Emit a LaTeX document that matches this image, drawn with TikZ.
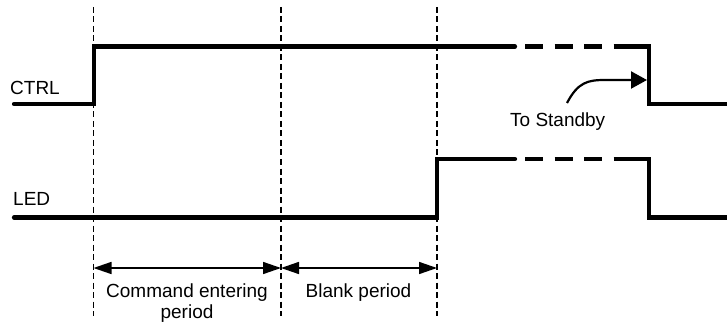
\documentclass[tikz,border=0pt]{standalone}
\usepackage{fontspec}
\setmainfont{Liberation Sans}
\usetikzlibrary{arrows.meta}
\begin{document}
\begin{tikzpicture}[x=1pt,y=-1pt,
  sig/.style={line width=4.2pt,line cap=round,line join=miter},
  sigdash/.style={line width=4.2pt,dash pattern=on 18pt off 11.5pt},
  guide/.style={line width=1.4pt,dash pattern=on 6pt off 3.5pt},
  dim/.style={line width=1.5pt,{Triangle[length=18pt,width=12pt]}-{Triangle[length=18pt,width=12pt]}},
  lbl/.style={font=\fontsize{19}{21}\selectfont,inner sep=0pt}]
\useasboundingbox (0,0) rectangle (727,323);
% guide lines
\coordinate (g1t) at (93.5,7); \coordinate (g1b) at (93.5,316);
\coordinate (g2t) at (281,7); \coordinate (g2b) at (281,316);
\coordinate (g3t) at (437,7); \coordinate (g3b) at (437,316);
\draw[guide] (g1t) -- (g1b);
\draw[guide] (g2t) -- (g2b);
\draw[guide] (g3t) -- (g3b);
% CTRL signal
\coordinate (c0) at (14,104);
\coordinate (c1) at (94,104);
\coordinate (c2) at (94,46.5);
\coordinate (c3) at (515,46.5);
\coordinate (c4) at (525,46.5);
\coordinate (c5) at (602,46.5);
\coordinate (c6) at (613.5,46.5);
\coordinate (c7) at (649,46.5);
\coordinate (c8) at (649,104);
\coordinate (c9) at (730,104);
\draw[sig] (c0) -- (c1) -- (c2) -- (c3);
\draw[sigdash] (c4) -- (c5);
\draw[sig,line cap=butt] (c6) -- (c7) -- (c8) -- (c9);
% LED signal
\coordinate (l0) at (14,217.5);
\coordinate (l1) at (437,217.5);
\coordinate (l2) at (437,159);
\coordinate (l3) at (515,159);
\coordinate (l4) at (525,159);
\coordinate (l5) at (602,159);
\coordinate (l6) at (613.5,159);
\coordinate (l7) at (649,159);
\coordinate (l8) at (649,217.5);
\coordinate (l9) at (730,217.5);
\draw[sig] (l0) -- (l1) -- (l2) -- (l3);
\draw[sigdash] (l4) -- (l5);
\draw[sig,line cap=butt] (l6) -- (l7) -- (l8) -- (l9);
% labels
\node[lbl,anchor=base west] (ctrl) at (10,95) {CTRL};
\node[lbl,anchor=base west] (led) at (13,205) {LED};
\node[lbl,anchor=base west] (stby) at (510,127) {To Standby};
% to standby arrow
\coordinate (s0) at (567,103);
\coordinate (s1) at (605,80);
\coordinate (s2) at (647,80);
\draw[line width=2.2pt,-{Triangle[length=16pt,width=17pt]}] (s0) .. controls (578,82) and (588,80) .. (s1) -- (s2);
% dimension arrows
\coordinate (d1) at (93.5,268);
\coordinate (d2) at (281,268);
\coordinate (d3) at (437,268);
\draw[dim] (d1) -- (d2);
\draw[dim] (d2) -- (d3);
\node[lbl,anchor=base,align=center] (cmd) at (187,318) {Command entering\\period};
\node[lbl,anchor=base] (blank) at (358.5,297) {Blank period};
\end{tikzpicture}
\end{document}
